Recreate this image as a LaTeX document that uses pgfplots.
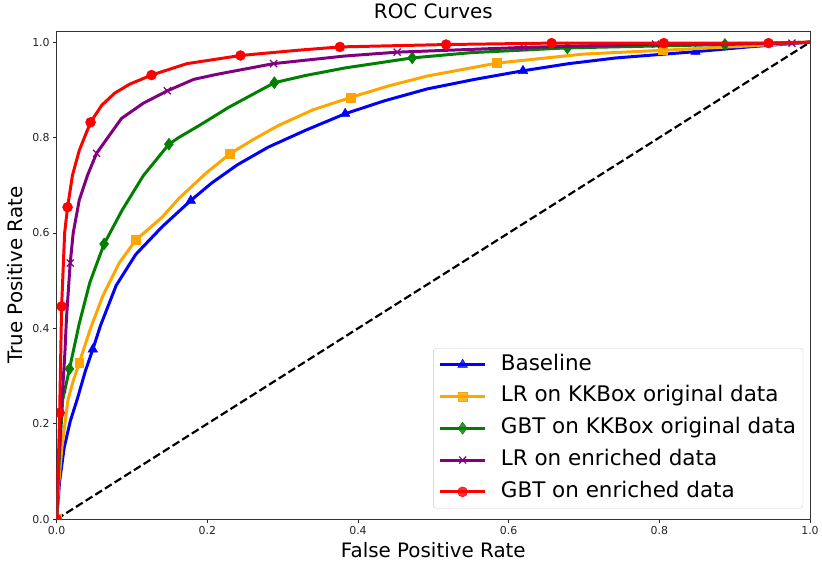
\documentclass[border=0pt]{standalone}
\usepackage{pgfplots}
\pgfplotsset{compat=1.18}
\usepackage{fontspec}
\setmainfont{DejaVu Sans}

\definecolor{mplorange}{RGB}{255,165,0}
\definecolor{mplgreen}{RGB}{0,128,0}
\definecolor{mplpurple}{RGB}{128,0,128}

\begin{document}
\begin{tikzpicture}
\begin{axis}[
    at={(0,0)}, anchor=south west,
    scale only axis,
    width=758pt, height=491pt,
    xmin=0, xmax=1, ymin=0, ymax=1.023,
    xtick={0,0.2,0.4,0.6,0.8,1},
    ytick={0,0.2,0.4,0.6,0.8,1},
    xticklabels={0.0,0.2,0.4,0.6,0.8,1.0},
    yticklabels={0.0,0.2,0.4,0.6,0.8,1.0},
    tick align=outside,
    tick pos=left,
    major tick length=3.5pt,
    every tick/.style={black!85, line width=0.8pt},
    axis line style={black!80, line width=0.8pt},
    ticklabel style={font=\fontsize{11}{13}\selectfont, text=black!85},
    /pgf/number format/assume math mode=true,
    xlabel={False Positive Rate},
    ylabel={True Positive Rate},
    title={ROC Curves},
    xlabel style={font=\fontsize{20}{24}\selectfont, at={(axis description cs:0.5,-0.064)}, anchor=center},
    ylabel style={font=\fontsize{20}{24}\selectfont, at={(axis description cs:-0.0545,0.5)}, anchor=center, rotate=0},
    title style={font=\fontsize{20}{24}\selectfont, at={(axis description cs:0.5,1.0295)}, anchor=center},
    clip mode=individual,
    clip marker paths=true,
    legend cell align=left,
    legend style={
        at={(0.991,0.022)}, anchor=south east,
        draw=black!20, rounded corners=3pt, fill=white, fill opacity=0.8, text opacity=1,
        font=\fontsize{21.6}{25}\selectfont,
        inner xsep=5pt, inner ysep=4pt,
        row sep=7pt,
        nodes={text height=16pt, text depth=5pt, inner sep=2pt},
        /tikz/every odd column/.style={column sep=12pt},
    },
    legend image code/.code={
        \draw[mark repeat=2,mark phase=2,#1] plot coordinates {(0pt,0pt)(23pt,0pt)(46pt,0pt)};
    },
]
% legend entries
\addlegendimage{blue, line width=3pt, mark=triangle*, mark size=5.5pt, mark options={line width=0.5pt}}
\addlegendentry{Baseline}
\addlegendimage{mplorange, line width=3pt, mark=square*, mark size=4.5pt, mark options={line width=0.5pt}}
\addlegendentry{LR on KKBox original data}
\addlegendimage{mplgreen, line width=3pt, mark=diamond*, mark size=6pt, mark options={line width=0.5pt}}
\addlegendentry{GBT on KKBox original data}
\addlegendimage{mplpurple, line width=3pt, mark=x, mark size=5pt, mark options={line width=1.2pt}}
\addlegendentry{LR on enriched data}
\addlegendimage{red, line width=3pt, mark=*, mark size=5pt, mark options={line width=0.5pt}}
\addlegendentry{GBT on enriched data}

% chance line
\addplot[black, line width=2.2pt, dash pattern=on 8pt off 3.5pt, forget plot] coordinates {(0,0) (1,1)};

% Baseline
\addplot[blue, line width=3pt, forget plot] coordinates {
(0,0) (0.004,0.08) (0.01,0.15) (0.018,0.205) (0.028,0.255) (0.038,0.31)
(0.048,0.356) (0.058,0.405) (0.079,0.49) (0.105,0.555) (0.14,0.613)
(0.178,0.668) (0.206,0.705) (0.24,0.743)
(0.281,0.78) (0.33,0.815) (0.383,0.85) (0.435,0.877) (0.492,0.902)
(0.555,0.922) (0.619,0.94) (0.68,0.955) (0.743,0.967) (0.848,0.98)
(0.918,0.99) (1,1)
};
\addplot[blue, only marks, mark=triangle*, mark size=5.5pt, mark options={line width=0.5pt}, forget plot] coordinates {
(0,0) (0.048,0.356) (0.178,0.668) (0.383,0.85) (0.619,0.94) (0.848,0.98)
};

% LR on KKBox original data
\addplot[mplorange, line width=3pt, forget plot] coordinates {
(0,0) (0.003,0.08) (0.007,0.15) (0.015,0.25) (0.022,0.29) (0.030,0.328)
(0.045,0.40) (0.061,0.467) (0.083,0.537)
(0.105,0.585) (0.14,0.633) (0.162,0.672) (0.198,0.725) (0.23,0.766)
(0.26,0.795) (0.294,0.825) (0.34,0.858) (0.39,0.884) (0.44,0.908)
(0.492,0.929) (0.584,0.956) (0.699,0.975) (0.805,0.983) (0.918,0.992) (1,1)
};
\addplot[mplorange, only marks, mark=square*, mark size=4.5pt, mark options={line width=0.5pt}, forget plot] coordinates {
(0,0) (0.030,0.328) (0.105,0.585) (0.23,0.766) (0.39,0.884) (0.584,0.956) (0.805,0.983)
};

% GBT on KKBox original data
\addplot[mplgreen, line width=3pt, forget plot] coordinates {
(0,0) (0.002,0.08) (0.005,0.17) (0.008,0.25) (0.017,0.315) (0.030,0.41)
(0.044,0.496) (0.063,0.577) (0.087,0.648) (0.115,0.72)
(0.149,0.786) (0.162,0.80) (0.189,0.825) (0.228,0.863) (0.289,0.915)
(0.33,0.93) (0.383,0.946) (0.472,0.967) (0.55,0.978) (0.678,0.988)
(0.887,0.995) (1,1)
};
\addplot[mplgreen, only marks, mark=diamond*, mark size=6pt, mark options={line width=0.5pt}, forget plot] coordinates {
(0,0) (0.017,0.315) (0.063,0.577) (0.149,0.786) (0.289,0.915) (0.472,0.967) (0.678,0.988) (0.887,0.995)
};

% LR on enriched data
\addplot[mplpurple, line width=3pt, forget plot] coordinates {
(0,0) (0.002,0.1) (0.005,0.2) (0.008,0.273) (0.011,0.35) (0.013,0.42)
(0.018,0.537) (0.022,0.6) (0.030,0.669) (0.041,0.721) (0.053,0.767)
(0.086,0.84) (0.115,0.872) (0.147,0.898) (0.182,0.922) (0.211,0.932)
(0.288,0.955) (0.383,0.971) (0.452,0.979) (0.62,0.989) (0.795,0.996)
(0.976,0.998) (1,1)
};
\addplot[mplpurple, only marks, mark=x, mark size=5pt, mark options={line width=1.2pt}, forget plot] coordinates {
(0,0) (0.008,0.273) (0.018,0.537) (0.053,0.767) (0.147,0.898) (0.288,0.955)
(0.452,0.979) (0.62,0.989) (0.795,0.996) (0.976,0.998)
};

% GBT on enriched data
\addplot[red, line width=3pt, forget plot] coordinates {
(0,0) (0.002,0.1) (0.004,0.223) (0.0066,0.446) (0.0106,0.6) (0.0145,0.654)
(0.021,0.721) (0.030,0.773) (0.045,0.832) (0.06,0.868) (0.077,0.893)
(0.097,0.912) (0.126,0.931) (0.173,0.955) (0.244,0.972) (0.32,0.983)
(0.376,0.99) (0.517,0.995) (0.657,0.998) (0.806,0.998) (0.945,0.998) (1,1)
};
\addplot[red, only marks, mark=*, mark size=5pt, mark options={line width=0.5pt}, forget plot] coordinates {
(0,0) (0.004,0.223) (0.0066,0.446) (0.0145,0.654) (0.045,0.832) (0.126,0.931)
(0.244,0.972) (0.376,0.99) (0.517,0.995) (0.657,0.998) (0.806,0.998) (0.945,0.998)
};
\end{axis}
\path[use as bounding box] (-57pt,-45pt) rectangle (765pt,521pt);
\end{tikzpicture}
\end{document}
